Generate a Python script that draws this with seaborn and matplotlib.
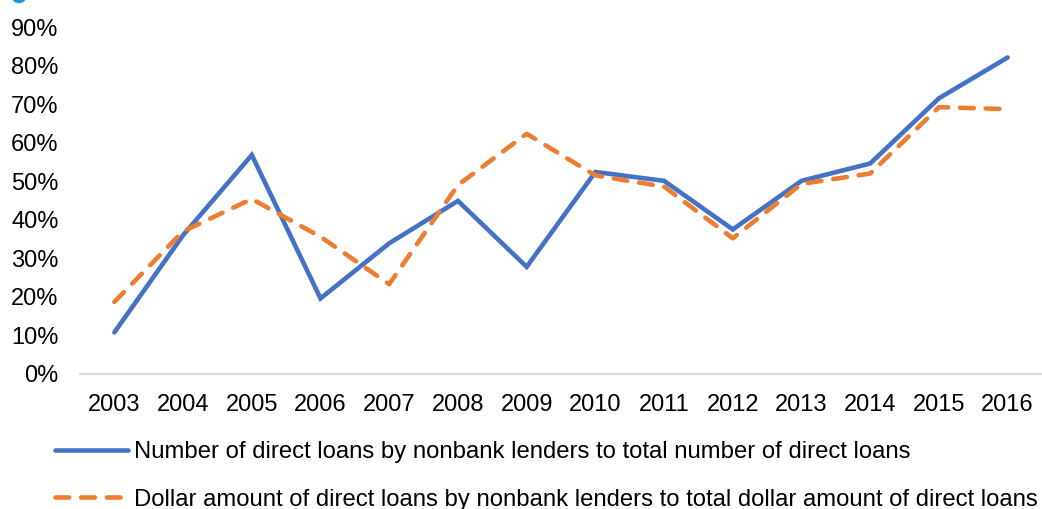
import matplotlib
matplotlib.use("Agg")
import matplotlib.pyplot as plt
from matplotlib.lines import Line2D
from matplotlib.patches import Ellipse
import seaborn as sns
import pandas as pd

years = [2003, 2004, 2005, 2006, 2007, 2008, 2009, 2010, 2011, 2012, 2013, 2014, 2015, 2016]
count_share = [10.8, 36.0, 56.8, 19.6, 33.9, 44.9, 27.8, 52.4, 50.1, 37.5, 50.1, 54.6, 71.5, 82.1]
dollar_share = [18.7, 37.0, 45.4, 35.6, 23.3, 49.0, 62.3, 51.5, 48.6, 35.2, 49.3, 52.0, 69.2, 68.7]
y_ticks = [0, 10, 20, 30, 40, 50, 60, 70, 80, 90]

label_count = "Number of direct loans by nonbank lenders to total number of direct loans"
label_dollar = "Dollar amount of direct loans by nonbank lenders to total dollar amount of direct loans"

BLUE = "#4472C4"
ORANGE = "#ED7D31"
FS = 17
LEG_FS = 17.2

sns.set_style("white")
plt.rcParams["font.family"] = ["Liberation Sans", "DejaVu Sans"]
plt.rcParams["text.color"] = "#000000"

df = pd.DataFrame({"year": years, "count": count_share, "dollar": dollar_share})

fig = plt.figure(figsize=(10.42, 5.09), dpi=100)
ax = fig.add_axes([80 / 1042, 1 - 374 / 509, 1 - 80 / 1042, (374 - 27) / 509])

lw = 3.3
sns.lineplot(data=df, x="year", y="count", ax=ax, color=BLUE, linewidth=lw,
             solid_capstyle="round", solid_joinstyle="miter")
sns.lineplot(data=df, x="year", y="dollar", ax=ax, color=ORANGE, linewidth=lw)
dash_line = ax.lines[-1]
dash_line.set_dashes((3.0, 2.6))
dash_line.set_dash_capstyle("round")

ax.set_xlim(years[0] - 0.5, years[-1] + 0.5)
ax.set_ylim(0, 90)
ax.set_xticks(years)
ax.set_xticklabels([str(y) for y in years])
ax.set_yticks(y_ticks)
ax.set_yticklabels([f"{t}%" for t in y_ticks])
ax.set_xlabel("")
ax.set_ylabel("")
ax.tick_params(axis="both", labelsize=FS, colors="#000000", length=0)
ax.tick_params(axis="y", pad=15.5)
ax.tick_params(axis="x", pad=14.5)

for side in ["top", "right", "left"]:
    ax.spines[side].set_visible(False)
ax.spines["bottom"].set_color("#D9D9D9")
ax.spines["bottom"].set_linewidth(1.5)
ax.grid(False)

handles = [
    Line2D([], [], color=BLUE, linewidth=lw, solid_capstyle="round"),
    Line2D([], [], color=ORANGE, linewidth=lw, dashes=(3.0, 2.6), dash_capstyle="round"),
]
fig.legend(handles, [label_count, label_dollar], loc="upper left",
           bbox_to_anchor=(55 / 1042, 1 - 441 / 509), frameon=False,
           fontsize=LEG_FS, labelcolor="#000000", handlelength=3.05, handletextpad=0.25,
           labelspacing=1.08, borderpad=0, borderaxespad=0)

# edge of the heading glyph above the plot
fig.patches.append(Ellipse((19 / 1042, 1 + 2 / 509), 12 / 1042, 9 / 509,
                           transform=fig.transFigure, color="#1E9BD7", clip_on=False))

fig.savefig("out.png", dpi=100)
